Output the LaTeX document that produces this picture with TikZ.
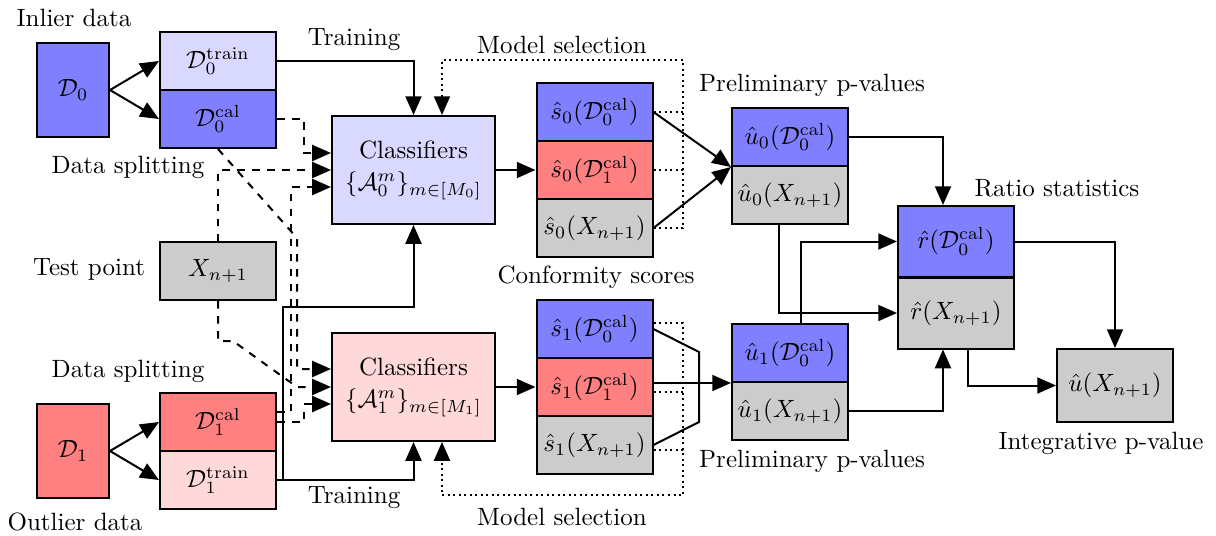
\documentclass[tikz,border=0pt]{standalone}
\usetikzlibrary{arrows.meta,calc}
\begin{document}
\begin{tikzpicture}[x=0.4pt,y=-0.4pt,
  cell/.style={draw,thick,inner sep=0pt,minimum width=46.4pt,minimum height=23.2pt},
  big/.style={draw,thick,inner sep=0pt,minimum width=28.8pt,minimum height=37.6pt},
  clf/.style={draw,thick,inner sep=0pt,minimum width=65.2pt,minimum height=43.2pt,align=center},
  rcell/.style={cell,minimum height=28.4pt},
  arr/.style={thick,-{Triangle[length=7.5pt,width=6.4pt]}},
  dsh/.style={arr,dashed},
  dotln/.style={thick,dash pattern=on 0.8pt off 1.4pt},
  dotarr/.style={arr,dash pattern=on 0.8pt off 1.4pt},
  lbl/.style={inner sep=0pt}]
\useasboundingbox (0,0) rectangle (1216,535);

% data boxes
\node[big,fill=blue!50] (D0) at (73,90) {$\mathcal{D}_0$};
\node[cell,fill=blue!15] (D0t) at (218,61) {$\mathcal{D}_0^{\mathrm{train}}$};
\node[cell,fill=blue!50] (D0c) at (218,119) {$\mathcal{D}_0^{\mathrm{cal}}$};
\node[cell,fill=gray!40] (X) at (218,271) {$X_{n+1}$};
\node[cell,fill=red!50] (D1c) at (218,422) {$\mathcal{D}_1^{\mathrm{cal}}$};
\node[cell,fill=red!15] (D1t) at (218,480) {$\mathcal{D}_1^{\mathrm{train}}$};
\node[big,fill=red!50] (D1) at (73,451) {$\mathcal{D}_1$};

% classifiers
\node[clf,fill=blue!15] (C0) at (413.5,170) {Classifiers\\[1pt]$\{\mathcal{A}_0^m\}_{m\in[M_0]}$};
\node[clf,fill=red!15] (C1) at (413.5,387) {Classifiers\\[1pt]$\{\mathcal{A}_1^m\}_{m\in[M_1]}$};

% scores
\node[cell,fill=blue!50] (s00) at (594.5,112) {$\hat{s}_0(\mathcal{D}_0^{\mathrm{cal}})$};
\node[cell,fill=red!50] (s01) at (594.5,170) {$\hat{s}_0(\mathcal{D}_1^{\mathrm{cal}})$};
\node[cell,fill=gray!40] (s0x) at (594.5,228) {$\hat{s}_0(X_{n+1})$};
\node[cell,fill=blue!50] (s10) at (594.5,329) {$\hat{s}_1(\mathcal{D}_0^{\mathrm{cal}})$};
\node[cell,fill=red!50] (s11) at (594.5,387) {$\hat{s}_1(\mathcal{D}_1^{\mathrm{cal}})$};
\node[cell,fill=gray!40] (s1x) at (594.5,445) {$\hat{s}_1(X_{n+1})$};

% preliminary p-values
\node[cell,fill=blue!50] (u00) at (790,137) {$\hat{u}_0(\mathcal{D}_0^{\mathrm{cal}})$};
\node[cell,fill=gray!40] (u0x) at (790,195) {$\hat{u}_0(X_{n+1})$};
\node[cell,fill=blue!50] (u10) at (790,353) {$\hat{u}_1(\mathcal{D}_0^{\mathrm{cal}})$};
\node[cell,fill=gray!40] (u1x) at (790,411) {$\hat{u}_1(X_{n+1})$};

% ratio statistics
\node[rcell,fill=blue!50] (r0) at (956,241.5) {$\hat{r}(\mathcal{D}_0^{\mathrm{cal}})$};
\node[rcell,fill=gray!40] (rx) at (956,313) {$\hat{r}(X_{n+1})$};

% integrative p-value
\node[cell,minimum height=29.2pt,fill=gray!40] (uh) at (1115,385.5) {$\hat{u}(X_{n+1})$};

% labels
\node[lbl] (l1) at (74,18) {Inlier data};
\node[lbl] (l2) at (128,167) {Data splitting};
\node[lbl] (l3) at (89,269) {Test point};
\node[lbl] (l4) at (128,371) {Data splitting};
\node[lbl] (l5) at (75,522) {Outlier data};
\node[lbl] (l6) at (354,40) {Training};
\node[lbl] (l7) at (354,498) {Training};
\node[lbl] (l8) at (562,45) {Model selection};
\node[lbl] (l9) at (562,517) {Model selection};
\node[lbl] (l10) at (812,85) {Preliminary p-values};
\node[lbl] (l11) at (812,461) {Preliminary p-values};
\node[lbl] (l12) at (596,277) {Conformity scores};
\node[lbl] (l13) at (1057,188) {Ratio statistics};
\node[lbl] (l14) at (1101,443) {Integrative p-value};

% coordinates
\coordinate (k1) at (283,307);
\coordinate (k2) at (297,238);
\coordinate (k3) at (297,387);
\coordinate (ms0) at (683,60);
\coordinate (ms1) at (683,495);
\coordinate (b1) at (699,352);
\coordinate (b2) at (699,422);

% splitting
\draw[arr] (D0.east) -- (D0t.west);
\draw[arr] (D0.east) -- (D0c.west);
\draw[arr] (D1.east) -- (D1c.west);
\draw[arr] (D1.east) -- (D1t.west);

% training
\draw[arr] (D0t.east) -| (C0.north);
\draw[arr] (D1t.east) -| (C1.south);
\draw[arr] (D1t.east) -| (k1) -| (C0.south);

% dashed inputs
\draw[dsh] (D0c.east) -| ($(C0.west)+(-27,-17)$) -- ($(C0.west)+(0,-17)$);
\draw[dsh] (X.north) |- (C0.west);
\draw[dsh] ($(D1c.east)+(0,-10)$) -| ($(C0.west)+(-40,17)$) -- ($(C0.west)+(0,17)$);
\draw[dsh] (D1c.east) -| ($(C1.west)+(-27,17)$) -- ($(C1.west)+(0,17)$);
\draw[dsh] (D0c.south) -- (k2) |- ($(C1.west)+(0,-18)$);
\draw[dsh] (X.south) -- ++(0,40) -- ++(15,0) -- (k3) -- (C1.west);

% classifiers to scores
\draw[arr] (C0.east) -- (s01.west);
\draw[arr] (C1.east) -- (s11.west);

% model selection
\draw[dotarr] (s0x.east) -| (ms0) -| ($(C0.north)+(28.5,0)$);
\draw[dotln] (s00.east) -- (s00.east -| ms0);
\draw[dotln] (s01.east) -- (s01.east -| ms0);
\draw[dotarr] ($(s10.east)+(0,-6)$) -| (ms1) -| ($(C1.south)+(28.5,0)$);
\draw[dotln] ($(s11.east)+(0,5)$) -- ++(31,0);
\draw[dotln] ($(s1x.east)+(0,5)$) -- ++(31,0);

% scores to p-values
\draw[arr] (s00.east) -- (u00.south west);
\draw[arr] (s0x.east) -- (u00.south west);
\draw[thick] (s10.east) -- (b1) -- (b2) -- (s1x.east);
\draw[arr] (s11.east |- u10.south west) -- (u10.south west);

% p-values to ratios
\draw[arr] (u00.east) -| ($(r0.north)+(-13,0)$);
\draw[arr] (u1x.east) -| ($(rx.south)+(-13,0)$);
\draw[arr] ($(u0x.south)+(-11,0)$) |- (rx.west);
\draw[arr] ($(u10.north)+(11,0)$) |- (r0.west);

% ratios to integrative p-value
\draw[arr] (r0.east) -| (uh.north);
\draw[arr] ($(rx.south)+(12,0)$) |- (uh.west);
\end{tikzpicture}
\end{document}
